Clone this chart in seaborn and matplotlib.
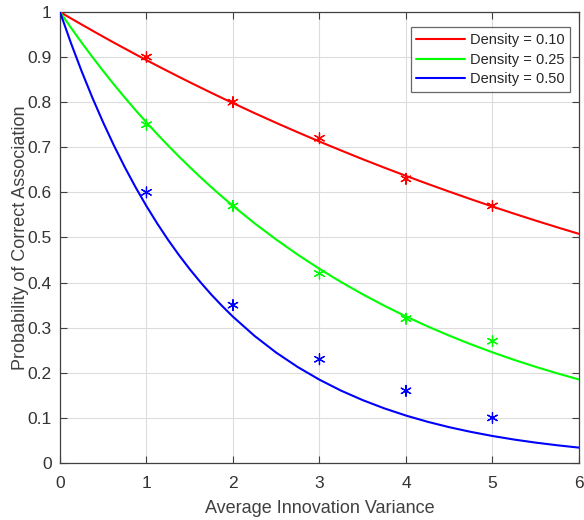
import matplotlib
matplotlib.use("Agg")
import matplotlib.pyplot as plt
import seaborn as sns
import pandas as pd

# Curve samples
x_curve = [0, 0.125, 0.25, 0.375, 0.5, 0.625, 0.75, 0.875, 1, 1.125, 1.25, 1.375,
           1.5, 1.625, 1.75, 1.875, 2, 2.25, 2.5, 2.75, 3,
           3.25, 3.5, 3.75, 4, 4.25, 4.5, 4.75, 5, 5.25, 5.5, 5.75, 6]
red_curve = [1, 0.9860, 0.9722, 0.9586, 0.9451, 0.9318, 0.9188, 0.9059, 0.8932,
             0.8807, 0.8684, 0.8562, 0.8442, 0.8324, 0.8207, 0.8092, 0.7979,
             0.7757, 0.7541, 0.7331, 0.7127, 0.6929, 0.6735, 0.6548, 0.6366,
             0.6189, 0.6017, 0.5849, 0.5686, 0.5528, 0.5374, 0.5225, 0.5080]
green_curve = [1, 0.9655, 0.9322, 0.9000, 0.8689, 0.8389, 0.8100, 0.7820, 0.7550,
               0.7290, 0.7038, 0.6795, 0.6561, 0.6334, 0.6115, 0.5904, 0.5701,
               0.5314, 0.4954, 0.4617, 0.4304, 0.4012, 0.3740, 0.3486, 0.3250,
               0.3029, 0.2824, 0.2632, 0.2454, 0.2287, 0.2132, 0.1987, 0.1852]
blue_curve = [1, 0.9320, 0.8687, 0.8097, 0.7547, 0.7034, 0.6556, 0.6110, 0.5695,
              0.5308, 0.4947, 0.4611, 0.4298, 0.4006, 0.3733, 0.3480, 0.3243,
              0.2817, 0.2447, 0.2126, 0.1847, 0.1604, 0.1394, 0.1211, 0.1052,
              0.0914, 0.0794, 0.0690, 0.0599, 0.0520, 0.0452, 0.0393, 0.0341]

# Simulated points
x_pts = [1, 2, 3, 4, 5]
red_pts = [0.90, 0.80, 0.72, 0.63, 0.57]
green_pts = [0.75, 0.57, 0.42, 0.32, 0.27]
blue_pts = [0.60, 0.35, 0.23, 0.16, 0.10]

labels = ["Density = 0.10", "Density = 0.25", "Density = 0.50"]
colors = ["#ff0000", "#00ff00", "#0000ff"]

sns.set_theme(style="white")
plt.rcParams['font.family'] = ['Liberation Sans', 'DejaVu Sans']

fig = plt.figure(figsize=(5.84, 5.2), dpi=100)
ax = fig.add_axes([0.1027, 0.1096, 0.8887, 0.8674])

n = len(x_curve)
curves = pd.DataFrame({
    "x": x_curve * 3,
    "y": red_curve + green_curve + blue_curve,
    "s": [labels[0]] * n + [labels[1]] * n + [labels[2]] * n,
})
pts = pd.DataFrame({
    "x": x_pts * 3,
    "y": red_pts + green_pts + blue_pts,
    "s": [labels[0]] * 5 + [labels[1]] * 5 + [labels[2]] * 5,
})
pal = dict(zip(labels, colors))

sns.lineplot(data=curves, x="x", y="y", hue="s", palette=pal, ax=ax,
             linewidth=1.5, legend=True, zorder=3)
sns.scatterplot(data=pts, x="x", y="y", hue="s", palette=pal, ax=ax,
                marker=(6, 2, 0), s=60, linewidth=0.9, legend=False, zorder=4)

ax.set_xlim(0, 6)
ax.set_ylim(0, 1)
ax.set_xticks(range(0, 7))
ax.set_yticks([i / 10 for i in range(11)])
ax.set_yticklabels(["0", "0.1", "0.2", "0.3", "0.4", "0.5", "0.6", "0.7", "0.8", "0.9", "1"])
ax.grid(True, color="#dcdcdc", linewidth=0.8)
ax.set_axisbelow(True)
for sp in ax.spines.values():
    sp.set_color("#404040")
    sp.set_linewidth(0.9)
ax.tick_params(direction="in", length=5, width=0.8, colors="#404040",
               labelcolor="#333333", labelsize=12.5, top=True, right=True,
               labeltop=False, labelright=False, bottom=True, left=True)
ax.tick_params(axis="x", pad=9)
ax.tick_params(axis="y", pad=6)
ax.set_xlabel("Average Innovation Variance", fontsize=13, color="#404040", labelpad=7)
ax.set_ylabel("Probability of Correct Association", fontsize=13, color="#404040", labelpad=-1)

leg = ax.legend(loc="upper right", bbox_to_anchor=(0.983, 0.966), fontsize=10.5,
                frameon=True, fancybox=False, handlelength=3.3, borderpad=0.4,
                labelspacing=0.38, handletextpad=0.35, borderaxespad=0.0)
leg.get_frame().set_edgecolor("#404040")
leg.get_frame().set_linewidth(0.9)
leg.set_title(None)

fig.savefig("out.png", dpi=100)
